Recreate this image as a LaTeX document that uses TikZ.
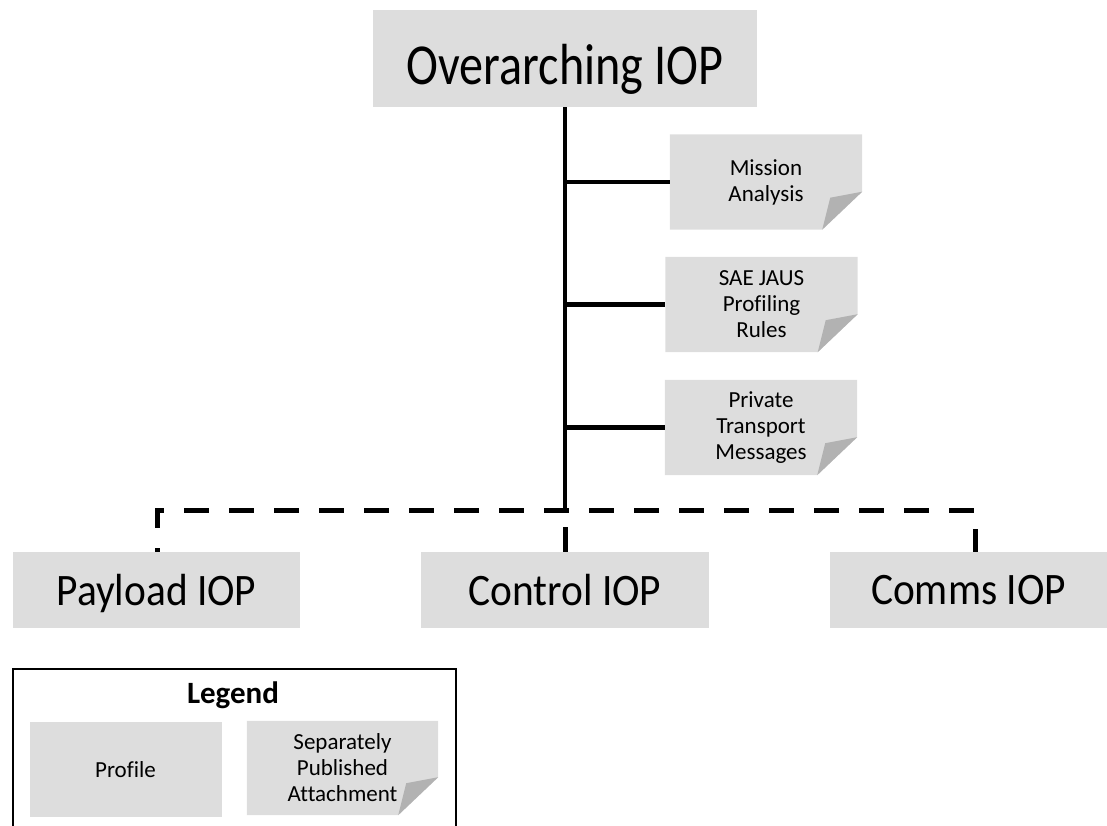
\documentclass[tikz,border=0pt]{standalone}
\usepackage{fontspec}
\setmainfont[Ligatures=NoCommon]{Carlito}
\newfontfamily\bigfont[FakeStretch=0.83,Ligatures=NoCommon]{Carlito}
\newfontfamily\midfont[FakeStretch=0.92,Ligatures=NoCommon]{Carlito}
\usetikzlibrary{backgrounds}
\definecolor{boxgray}{HTML}{DDDDDD}
\definecolor{foldgray}{HTML}{B2B2B2}
\begin{document}
\begin{tikzpicture}[x=1pt,y=-1pt,
  profile/.style={fill=boxgray, inner sep=0pt, text depth=0pt, anchor=center},
  bigbox/.style={profile, minimum height=76pt, font=\midfont\fontsize{45}{54}\selectfont},
  doc/.style={inner sep=0pt, align=center, minimum width=192pt, minimum height=95pt, font=\fontsize{23}{26}\selectfont},
  trunk/.style={line width=4.5pt},
  dashline/.style={line width=5pt, dash pattern=on 25pt off 20pt}]
\useasboundingbox (0,0) rectangle (1107,826);
\clip (0,0) rectangle (1107,826);
% main boxes
\node[profile, minimum width=384pt, minimum height=97pt, text height=53pt, font=\bigfont\fontsize{58}{70}\selectfont] (over) at (565,58.5) {Overarching IOP};
\node[bigbox, minimum width=287pt] (payload) at (156.5,590) {Payload IOP};
\node[bigbox, minimum width=288pt] (control) at (565,590) {Control IOP};
\node[bigbox, minimum width=277pt] (comms) at (968.5,590) {Comms IOP};
% attachments
\node[doc] (mission) at (766,182) {Mission\\Analysis};
\node[doc] (sae) at (761.5,304.5) {SAE JAUS\\Profiling\\Rules};
\node[doc] (private) at (761,427.5) {Private\\Transport\\Messages};
% legend
\node[draw, line width=2pt, inner sep=0pt, minimum width=443pt, minimum height=220pt, anchor=north west] (legendbox) at (12,668) {};
\node[font=\fontsize{31}{36}\selectfont\bfseries, inner sep=0pt] (legendtitle) at (233,695) {Legend};
\node[profile, minimum width=192pt, minimum height=95pt, font=\fontsize{23}{26}\selectfont] (legprofile) at (125.5,769.5) {Profile};
\node[doc, minimum width=191pt, minimum height=94pt] (legatt) at (342.5,768) {Separately\\Published\\Attachment};
% folded-corner shapes
\begin{scope}[on background layer]
\foreach \n in {mission,sae,private,legatt}{
  \fill[boxgray] (\n.north west) -- (\n.north east) -- ([yshift=38pt]\n.south east) -- ([xshift=-40pt]\n.south east) -- (\n.south west) -- cycle;
  \fill[foldgray] ([yshift=38pt]\n.south east) -- ([xshift=-32pt,yshift=32pt]\n.south east) -- ([xshift=-40pt]\n.south east) -- cycle;
}
\end{scope}
% connectors
\coordinate (jn) at (565,510);
\coordinate (dl) at (157,510);
\coordinate (dr) at (975,510);
\draw[trunk] (over.south) -- (jn);
\draw[trunk] (mission.west -| jn) -- (mission.west);
\draw[trunk] (sae.west -| jn) -- (sae.west);
\draw[trunk] (private.west -| jn) -- (private.west);
\draw[dashline, dash phase=21pt] (payload.north -| dl) -- (dl) -- (dr) -- (comms.north -| dr);
\draw[dashline] (control.north) -- (jn);
\end{tikzpicture}
\end{document}
